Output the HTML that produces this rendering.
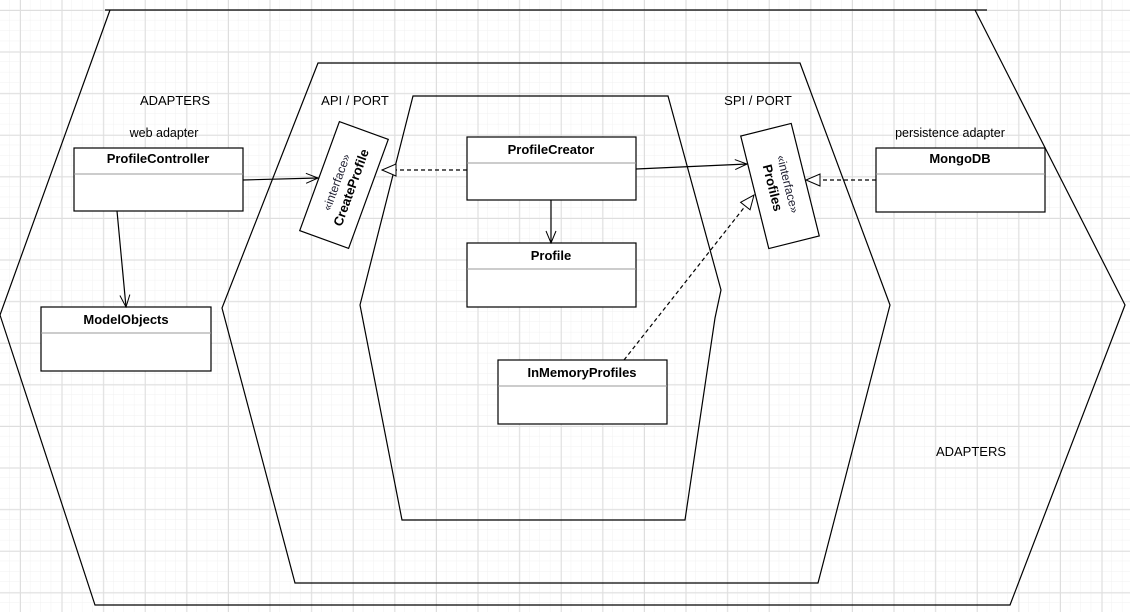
<!DOCTYPE html>
<html><head><meta charset="utf-8"><style>
html,body{margin:0;padding:0;background:#fff;}
svg{display:block;font-family:"Liberation Sans",Arial,sans-serif;}
</style></head><body>
<svg width="1130" height="612" viewBox="0 0 1130 612" xmlns="http://www.w3.org/2000/svg">
<defs>
<pattern id="minor" width="10.4" height="10.4" patternUnits="userSpaceOnUse" x="-0.8" y="-0.4">
<path d="M10.4 0V10.4M0 10.4H10.4" stroke="#f1f1f1" stroke-width="1" fill="none"/>
</pattern>
<pattern id="major" width="41.6" height="41.6" patternUnits="userSpaceOnUse" x="20" y="10">
<path d="M0.5 0V41.6M0 0.5H41.6" stroke="#dedede" stroke-width="1" fill="none"/>
</pattern>
<marker id="open" markerWidth="14" markerHeight="12" refX="13" refY="6" orient="auto" markerUnits="userSpaceOnUse">
<path d="M1 1L13 6L1 11" fill="none" stroke="#000" stroke-width="1"/>
</marker>
<marker id="tri" markerWidth="16" markerHeight="14" refX="15" refY="7" orient="auto" markerUnits="userSpaceOnUse">
<path d="M1 1L15 7L1 13Z" fill="#fff" stroke="#000" stroke-width="1"/>
</marker>
</defs>
<rect width="1130" height="612" fill="#fff"/>
<rect width="1130" height="612" fill="url(#minor)"/>
<rect width="1130" height="612" fill="url(#major)"/>

<g fill="none" stroke="#000" stroke-width="1.2">
<path d="M105 10H987"/>
<path d="M110 10L0 315L95 605H1010L1125 305L975 10"/>
<path d="M318 63H800L890 305L818 583H295L222 308Z"/>
<path d="M413 96H668L721 290L715 318L685 520H402L360 305Z"/>
</g>

<g font-size="13" fill="#000" text-anchor="middle">
<text x="175" y="105">ADAPTERS</text>
<text x="164" y="137" font-size="12.5">web adapter</text>
<text x="355" y="105">API / PORT</text>
<text x="758" y="105">SPI / PORT</text>
<text x="950" y="137" font-size="12.5">persistence adapter</text>
<text x="971" y="456">ADAPTERS</text>
</g>

<g stroke="#000" stroke-width="1.2" fill="#fff">
<rect x="74" y="148" width="169" height="63"/>
<rect x="41" y="307" width="170" height="64"/>
<rect x="467" y="137" width="169" height="63"/>
<rect x="467" y="243" width="169" height="64"/>
<rect x="498" y="360" width="169" height="64"/>
<rect x="876" y="148" width="169" height="64"/>
</g>
<g stroke="#999" stroke-width="1">
<path d="M74 174H243M41 333H211M467 163H636M467 269H636M498 386H667M876 174H1045"/>
</g>
<g font-size="13" font-weight="bold" text-anchor="middle">
<text x="158" y="163">ProfileController</text>
<text x="126" y="324">ModelObjects</text>
<text x="551" y="154">ProfileCreator</text>
<text x="551" y="260">Profile</text>
<text x="582" y="377">InMemoryProfiles</text>
<text x="960" y="163">MongoDB</text>
</g>

<g transform="translate(344,185) rotate(-70)">
<rect x="-58" y="-26" width="116" height="52" fill="#fff" stroke="#000" stroke-width="1.2"/>
<text x="0" y="-4" font-size="12" text-anchor="middle" fill="#223">«interface»</text>
<text x="0" y="12" font-size="13" font-weight="bold" text-anchor="middle">CreateProfile</text>
</g>
<g transform="translate(780,186) rotate(76)">
<rect x="-58" y="-26" width="116" height="52" fill="#fff" stroke="#000" stroke-width="1.2"/>
<text x="0" y="-4" font-size="12" text-anchor="middle" fill="#223">«interface»</text>
<text x="0" y="12" font-size="13" font-weight="bold" text-anchor="middle">Profiles</text>
</g>

<g stroke="#000" stroke-width="1.2" fill="none">
<path d="M243 180L318 178" marker-end="url(#open)"/>
<path d="M117 211L126 307" marker-end="url(#open)"/>
<path d="M636 169L747 164" marker-end="url(#open)"/>
<path d="M551 200L551 243" marker-end="url(#open)"/>
<path d="M467 170L382 170" stroke-dasharray="4,3" marker-end="url(#tri)"/>
<path d="M624 360L754 195" stroke-dasharray="4,3" marker-end="url(#tri)"/>
<path d="M876 180L806 180" stroke-dasharray="4,3" marker-end="url(#tri)"/>
</g>
</svg>
</body></html>
